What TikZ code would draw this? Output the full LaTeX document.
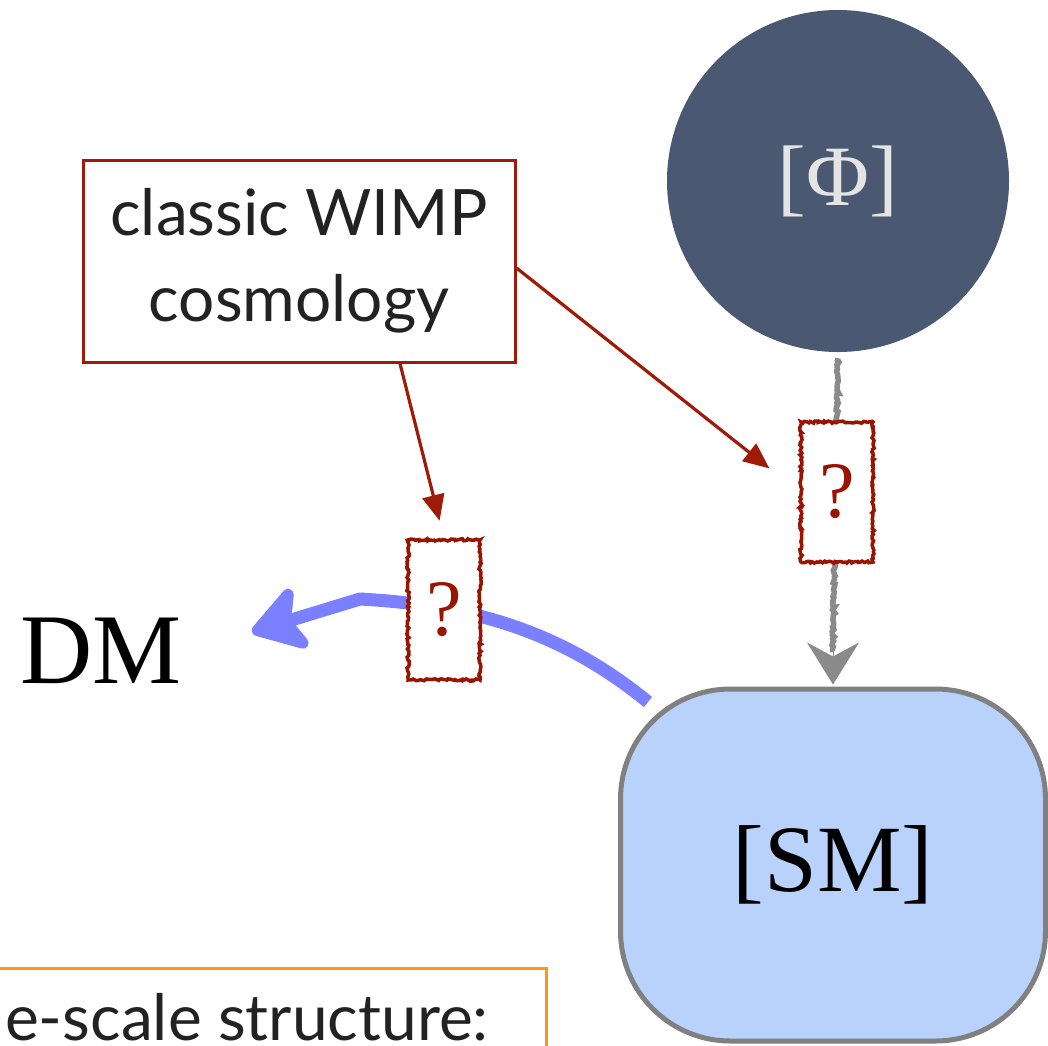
\documentclass[tikz,border=0pt]{standalone}
\usepackage{fontspec}
\setmainfont{Liberation Serif}
\newfontfamily\sansf{Lato}
\usetikzlibrary{arrows.meta,decorations.pathmorphing}
\definecolor{wred}{RGB}{158,27,10}
\definecolor{qred}{RGB}{153,20,0}
\definecolor{phifill}{RGB}{74,88,113}
\definecolor{phitext}{RGB}{228,228,228}
\definecolor{smfill}{RGB}{185,210,251}
\definecolor{smborder}{RGB}{128,128,128}
\definecolor{dmblue}{RGB}{122,128,255}
\definecolor{lssorange}{RGB}{255,150,20}
\definecolor{txt}{RGB}{34,34,34}
\definecolor{arrgray}{RGB}{138,138,138}
\tikzset{
  rough/.style={decorate,decoration={random steps,segment length=2pt,amplitude=1.2pt}},
  qbox/.style={draw=qred,fill=white,line width=3.5pt,minimum width=72pt,minimum height=140pt,inner sep=0pt,rough,text=qred,font=\fontsize{80}{80}\selectfont},
  redarrow/.style={draw=wred,line width=3.2pt,-{Triangle[length=26pt,width=22pt]}},
  grayline/.style={draw=arrgray,line width=5.5pt},
  graytip/.style={draw=arrgray,fill=arrgray,line width=1pt,-{Stealth[length=42pt,width=52pt,inset=14pt]}},
  bluearrow/.style={draw=dmblue,line width=13pt,line join=round,-{Stealth[length=62pt,width=78pt,inset=16pt,round]}},
}
\begin{document}
\begin{tikzpicture}[x=1pt,y=-1pt]
\useasboundingbox (0,0) rectangle (1048,1045);
\clip (0,0) rectangle (1048,1045);

% Phi circle
\node[circle,fill=phifill,minimum size=342pt,inner sep=0pt,text=phitext,font=\fontsize{86}{86}\selectfont] (phi) at (838,181) {[Φ]};

% SM box
\node[draw=smborder,fill=smfill,line width=5pt,rounded corners=110pt,minimum width=425pt,minimum height=352pt,inner sep=0pt,font=\fontsize{95}{95}\selectfont] (sm) at (833,865) {[SM]};

% gray connector phi -> sm
\draw[grayline,rough] ([yshift=-6pt]phi.south) -- ([yshift=35pt]sm.north);
\draw[graytip] ([yshift=40pt]sm.north) -- ([yshift=2pt]sm.north);

% WIMP box
\node[draw=wred,line width=3pt,minimum width=432pt,minimum height=202pt,align=center,text=txt,font=\sansf\fontsize{64}{86}\selectfont] (wimp) at (299,261) {classic WIMP\\cosmology};

% DM label
\node[font=\fontsize{100}{100}\selectfont,inner sep=0pt,anchor=base west] (dm) at (20,683) {DM};

% blue arrow sm -> dm
\coordinate (bstart) at (648,702);
\coordinate (bkink) at (360,599);
\coordinate (dmtip) at (252,632);
\draw[bluearrow] (bstart) .. controls (560,630) and (470,605) .. (bkink) -- (dmtip);

% question boxes
\node[qbox] (q1) at (444,610) {?};
\node[qbox] (q2) at (837,492) {?};

% red arrows
\draw[redarrow,shorten >=18pt] ([xshift=101pt]wimp.south) -- (q1.north);
\draw[redarrow,shorten >=38pt] ([yshift=-7pt]wimp.east) -- (q2.west);

% large-scale structure box (cut off)
\node[draw=lssorange,line width=3pt,minimum width=620pt,minimum height=200pt,anchor=north east,inner sep=0pt] (lss) at (548,967) {};
\node[anchor=base west,inner sep=0pt,text=txt,font=\sansf\fontsize{64}{64}\selectfont] (lsstext) at (5,1040) {e-scale structure:};
\end{tikzpicture}
\end{document}
